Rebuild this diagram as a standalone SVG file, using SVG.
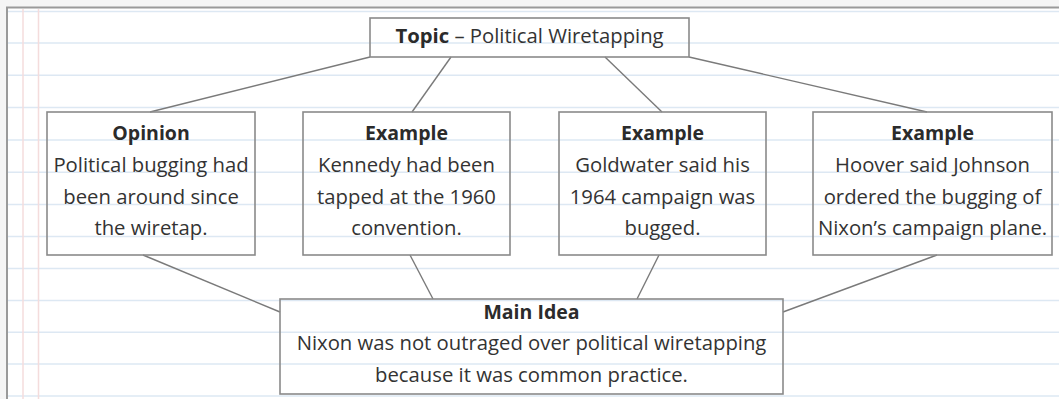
<svg xmlns="http://www.w3.org/2000/svg" width="1059" height="399" viewBox="0 0 1059 399">
<style>
.rule{stroke:#dde8f3;stroke-width:1.5}
.margin{stroke:#f4dcdc;stroke-width:1.5}
.box{fill:none;stroke:#8a8a8a;stroke-width:1.6}
.conn{stroke:#7a7a7a;stroke-width:1.4;fill:none}
.h{font-family:"Open Sans","Liberation Sans",sans-serif;font-weight:bold;font-size:19.5px;fill:#2b2b2b;text-anchor:middle}
.t{font-family:"Open Sans","Liberation Sans",sans-serif;font-size:20.3px;fill:#333;text-anchor:middle}
</style>
<rect x="0" y="0" width="1059" height="399" fill="#f5f5f5"/>
<rect x="7" y="8" width="1052" height="391" fill="#ffffff"/>
<g id="paper">
<line class="rule" x1="8" y1="11.5" x2="1059" y2="11.5"/>
<line class="rule" x1="8" y1="43" x2="1059" y2="43"/>
<line class="rule" x1="8" y1="75.3" x2="1059" y2="75.3"/>
<line class="rule" x1="8" y1="107.6" x2="1059" y2="107.6"/>
<line class="rule" x1="8" y1="139.9" x2="1059" y2="139.9"/>
<line class="rule" x1="8" y1="172.2" x2="1059" y2="172.2"/>
<line class="rule" x1="8" y1="204.5" x2="1059" y2="204.5"/>
<line class="rule" x1="8" y1="236.6" x2="1059" y2="236.6"/>
<line class="rule" x1="8" y1="268.6" x2="1059" y2="268.6"/>
<line class="rule" x1="8" y1="300.6" x2="1059" y2="300.6"/>
<line class="rule" x1="8" y1="332.3" x2="1059" y2="332.3"/>
<line class="rule" x1="8" y1="364" x2="1059" y2="364"/>
<line class="rule" x1="8" y1="396" x2="1059" y2="396"/>
<line class="margin" x1="23" y1="9" x2="23" y2="399"/>
<line class="margin" x1="38.5" y1="9" x2="38.5" y2="399"/>
<line x1="6" y1="7.5" x2="1059" y2="7.5" stroke="#9a9a9a" stroke-width="2"/>
<line x1="7" y1="7" x2="7" y2="399" stroke="#9a9a9a" stroke-width="2"/>
</g>
<g id="connectors">
<line class="conn" x1="370" y1="57" x2="150" y2="112"/>
<line class="conn" x1="451" y1="57" x2="412" y2="112"/>
<line class="conn" x1="605" y1="57" x2="662" y2="112"/>
<line class="conn" x1="689" y1="57" x2="927" y2="112"/>
<line class="conn" x1="143" y1="255" x2="280" y2="312"/>
<line class="conn" x1="410" y1="255" x2="433" y2="299"/>
<line class="conn" x1="659" y1="255" x2="637" y2="299"/>
<line class="conn" x1="937" y1="255" x2="783" y2="312"/>
</g>
<g id="topic">
<rect class="box" x="370" y="18" width="319" height="39"/>
<text x="529.5" y="43" class="t"><tspan style="font-weight:bold;fill:#2b2b2b">Topic</tspan> – Political Wiretapping</text>
</g>
<g id="opinion">
<rect class="box" x="47" y="112" width="208" height="143"/>
<text x="151" y="140" class="h">Opinion</text>
<text x="151" y="172" class="t">Political bugging had</text>
<text x="151" y="203.5" class="t">been around since</text>
<text x="151" y="235" class="t">the wiretap.</text>
</g>
<g id="example1">
<rect class="box" x="303" y="112" width="207" height="143"/>
<text x="406.5" y="140" class="h">Example</text>
<text x="406.5" y="172" class="t">Kennedy had been</text>
<text x="406.5" y="203.5" class="t">tapped at the 1960</text>
<text x="406.5" y="235" class="t">convention.</text>
</g>
<g id="example2">
<rect class="box" x="559" y="112" width="207" height="143"/>
<text x="662.5" y="140" class="h">Example</text>
<text x="662.5" y="172" class="t">Goldwater said his</text>
<text x="662.5" y="203.5" class="t">1964 campaign was</text>
<text x="662.5" y="235" class="t">bugged.</text>
</g>
<g id="example3">
<rect class="box" x="813" y="112" width="239" height="143"/>
<text x="932.5" y="140" class="h">Example</text>
<text x="932.5" y="172" class="t">Hoover said Johnson</text>
<text x="932.5" y="203.5" class="t">ordered the bugging of</text>
<text x="932.5" y="235" class="t">Nixon’s campaign plane.</text>
</g>
<g id="mainidea">
<rect class="box" x="280" y="299" width="503" height="95"/>
<text x="531.5" y="318.5" class="h">Main Idea</text>
<text x="531.5" y="350" class="t">Nixon was not outraged over political wiretapping</text>
<text x="531.5" y="382" class="t">because it was common practice.</text>
</g>
</svg>
